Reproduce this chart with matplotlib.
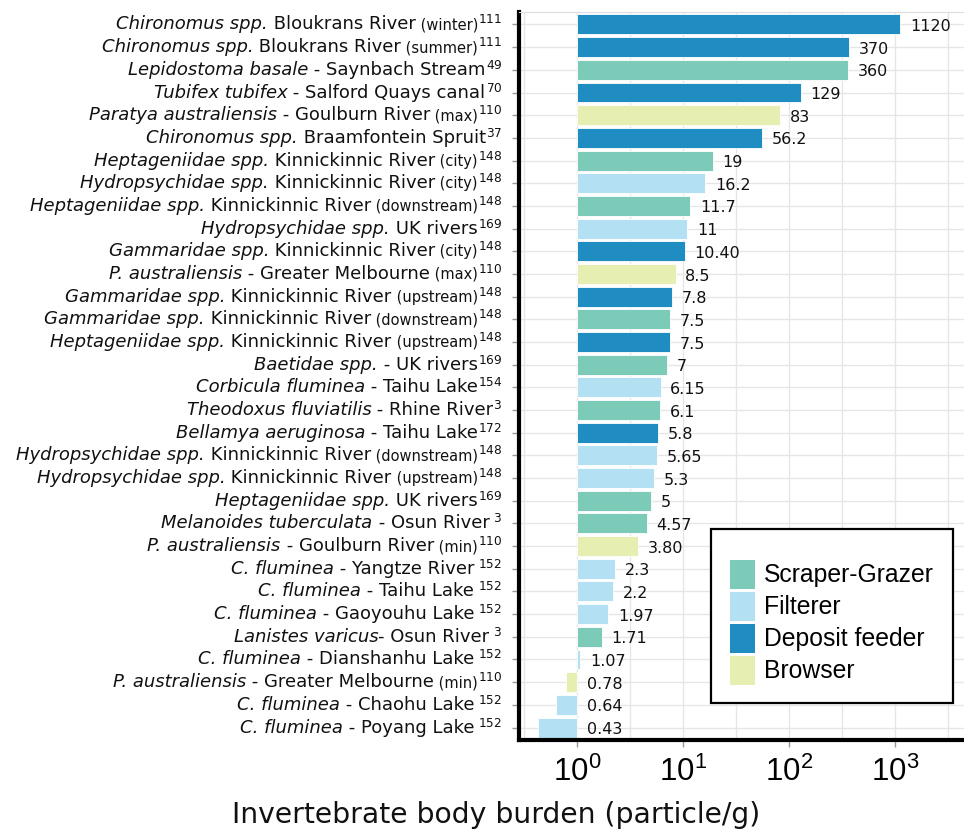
import matplotlib
matplotlib.use("Agg")
import matplotlib.pyplot as plt
from matplotlib.offsetbox import TextArea, HPacker, AnnotationBbox
from matplotlib.patches import Patch

# Body burden per study, top to bottom
species = [
    "Chironomus spp.", "Chironomus spp.", "Lepidostoma basale", "Tubifex tubifex",
    "Paratya australiensis", "Chironomus spp.", "Heptageniidae spp.", "Hydropsychidae spp.",
    "Heptageniidae spp.", "Hydropsychidae spp.", "Gammaridae spp.", "P. australiensis",
    "Gammaridae spp.", "Gammaridae spp.", "Heptageniidae spp.", "Baetidae spp.",
    "Corbicula fluminea", "Theodoxus fluviatilis", "Bellamya aeruginosa", "Hydropsychidae spp.",
    "Hydropsychidae spp.", "Heptageniidae spp.", "Melanoides tuberculata", "P. australiensis",
    "C. fluminea", "C. fluminea", "C. fluminea", "Lanistes varicus",
    "C. fluminea", "P. australiensis", "C. fluminea", "C. fluminea",
]
sites = [
    " Bloukrans River", " Bloukrans River", " - Saynbach Stream", " - Salford Quays canal",
    " - Goulburn River", " Braamfontein Spruit", " Kinnickinnic River", " Kinnickinnic River",
    " Kinnickinnic River", " UK rivers", " Kinnickinnic River", " - Greater Melbourne",
    " Kinnickinnic River", " Kinnickinnic River", " Kinnickinnic River", " - UK rivers",
    " - Taihu Lake", " - Rhine River", " - Taihu Lake", " Kinnickinnic River",
    " Kinnickinnic River", " UK rivers", " - Osun River", " - Goulburn River",
    " - Yangtze River", " - Taihu Lake", " - Gaoyouhu Lake", "- Osun River",
    " - Dianshanhu Lake", " - Greater Melbourne", " - Chaohu Lake", " - Poyang Lake",
]
qualifiers = [
    "winter", "summer", "", "", "max", "", "city", "city",
    "downstream", "", "city", "max", "upstream", "downstream", "upstream", "",
    "", "", "", "downstream", "upstream", "", "", "min",
    "", "", "", "", "", "min", "", "",
]
refs = [
    "111", "111", "49", "70", "110", "37", "148", "148",
    "148", "169", "148", "110", "148", "148", "148", "169",
    "154", "3", "172", "148", "148", "169", "\\ 3", "110",
    "\\ 152", "\\ 152", "\\ 152", "\\ 3", "\\ 152", "110", "\\ 152", "\\ 152",
]
values = [
    1120, 370, 360, 129, 83, 56.2, 19, 16.2,
    11.7, 11, 10.40, 8.5, 7.8, 7.5, 7.5, 7,
    6.15, 6.1, 5.8, 5.65, 5.3, 5, 4.57, 3.80,
    2.3, 2.2, 1.97, 1.71, 1.07, 0.78, 0.64, 0.43,
]
value_labels = [
    "1120", "370", "360", "129", "83", "56.2", "19", "16.2",
    "11.7", "11", "10.40", "8.5", "7.8", "7.5", "7.5", "7",
    "6.15", "6.1", "5.8", "5.65", "5.3", "5", "4.57", "3.80",
    "2.3", "2.2", "1.97", "1.71", "1.07", "0.78", "0.64", "0.43",
]
groups = [
    "Deposit feeder", "Deposit feeder", "Scraper-Grazer", "Deposit feeder",
    "Browser", "Deposit feeder", "Scraper-Grazer", "Filterer",
    "Scraper-Grazer", "Filterer", "Deposit feeder", "Browser",
    "Deposit feeder", "Scraper-Grazer", "Deposit feeder", "Scraper-Grazer",
    "Filterer", "Scraper-Grazer", "Deposit feeder", "Filterer",
    "Filterer", "Scraper-Grazer", "Scraper-Grazer", "Browser",
    "Filterer", "Filterer", "Filterer", "Scraper-Grazer",
    "Filterer", "Browser", "Filterer", "Filterer",
]
group_order = ["Scraper-Grazer", "Filterer", "Deposit feeder", "Browser"]
group_colors = {
    "Scraper-Grazer": "#7ccbb9",
    "Filterer": "#b3e1f3",
    "Deposit feeder": "#1f8dc2",
    "Browser": "#e7eeb1",
}

plt.rcParams["mathtext.fontset"] = "custom"
plt.rcParams["mathtext.rm"] = "Liberation Sans"
plt.rcParams["mathtext.it"] = "Liberation Sans:italic"

W, H = 964, 833
fig = plt.figure(figsize=(W / 100, H / 100), dpi=100)
ax = fig.add_axes([519 / W, 1 - 740 / H, (W - 519) / W, (740 - 12) / H])

n = len(values)
ypos = list(range(n))
lefts = [min(v, 1) for v in values]
widths = [abs(v - 1) for v in values]
colors = [group_colors[g] for g in groups]
ax.barh(ypos, widths, left=lefts, height=0.88, color=colors,
        edgecolor="white", linewidth=0.6, zorder=2)

ax.set_xscale("log")
ax.set_xlim(10 ** -0.547, 10 ** 3.651)
ax.set_ylim(n - 0.45, -0.55)

# gridlines at decades and half decades, horizontal at each bar
ax.set_xticks([1, 10, 100, 1000])
ax.set_xticks([10 ** (k + 0.5) for k in range(-1, 4)], minor=True)
ax.set_yticks(ypos)
ax.set_yticklabels([])
ax.grid(True, which="both", axis="x", color="#e6e6e6", lw=1.0, zorder=0)
ax.grid(True, which="major", axis="y", color="#e6e6e6", lw=1.0, zorder=0)
ax.set_axisbelow(True)
ax.tick_params(axis="x", which="minor", length=0)
ax.tick_params(axis="both", which="major", length=5, width=1, color="#999999")
ax.tick_params(axis="x", which="major", pad=7)
ax.set_xticklabels([r"$10^{%d}$" % k for k in range(4)])
for lab in ax.get_xticklabels():
    lab.set_fontsize(22.5)
    lab.set_fontfamily("Liberation Sans")
    lab.set_math_fontfamily("custom")

for side in ("left", "bottom"):
    ax.spines[side].set_linewidth(3)
    ax.spines[side].set_color("black")
ax.spines["right"].set_visible(False)
ax.spines["top"].set_color("#dddddd")
ax.spines["top"].set_linewidth(0.8)

# y labels: italic species, site, small qualifier, superscript reference
for i in range(n):
    parts = [
        TextArea(species[i], textprops=dict(fontsize=13, style="italic", color="#111111")),
        TextArea(sites[i], textprops=dict(fontsize=13, color="#111111")),
    ]
    if qualifiers[i]:
        parts.append(TextArea(" (" + qualifiers[i] + ")", textprops=dict(fontsize=10.5, color="#111111")))
    parts.append(TextArea(r"$^{%s}$" % refs[i],
                          textprops=dict(fontsize=12.5, color="#111111", math_fontfamily="dejavusans")))
    box = HPacker(children=parts, align="baseline", pad=0, sep=0)
    ab = AnnotationBbox(box, (0, i), xycoords=ax.get_yaxis_transform(),
                        xybox=(-12, 0), boxcoords="offset points",
                        box_alignment=(1, 0.5), frameon=False, pad=0,
                        annotation_clip=False)
    ax.add_artist(ab)

# value annotations at bar end (or at 1 for values below 1)
for i, (v, txt) in enumerate(zip(values, value_labels)):
    ax.annotate(txt, xy=(max(v, 1), i), xytext=(7, -1.5), textcoords="offset points",
                ha="left", va="center", fontsize=11.5, color="#111111")

handles = [Patch(facecolor=group_colors[g], edgecolor="none") for g in group_order]
leg = fig.legend(handles, group_order, loc="upper left",
                 bbox_to_anchor=(711 / W, 1 - 529 / H), bbox_transform=fig.transFigure,
                 borderaxespad=0, fancybox=False, framealpha=1, edgecolor="black",
                 prop=dict(family="Liberation Sans", size=17.8),
                 handlelength=1.01, handleheight=1.43, labelspacing=0.12,
                 handletextpad=0.4, borderpad=0.75, title=" ", title_fontsize=6.5)
leg.get_frame().set_linewidth(1.6)

fig.text(496 / W, 1 - 815 / H, "Invertebrate body burden (particle/g)",
         ha="center", va="center", fontsize=20.3, color="#111111")

fig.savefig("out.png", dpi=100)
